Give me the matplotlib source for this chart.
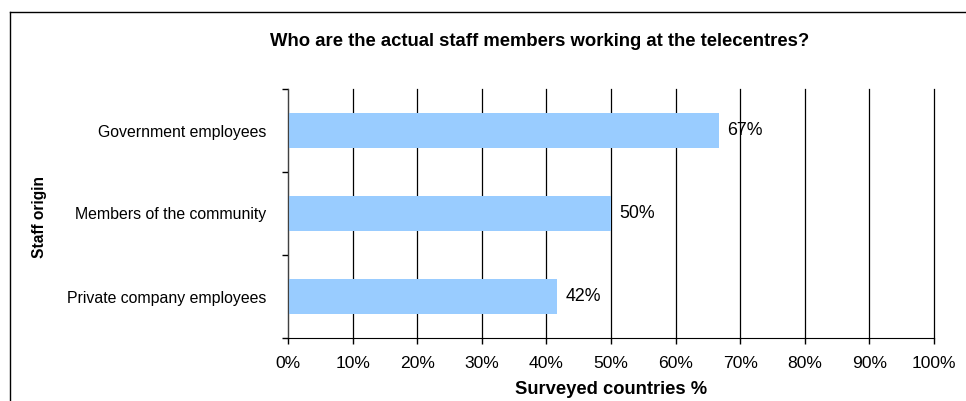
import matplotlib
matplotlib.use("Agg")
import matplotlib.pyplot as plt
from matplotlib.lines import Line2D
from matplotlib.ticker import FixedLocator

plt.rcParams['font.family'] = ['Liberation Sans', 'DejaVu Sans']

categories = ["Private company employees", "Members of the community", "Government employees"]
values = [41.67, 50.0, 66.67]
value_labels = ["42%", "50%", "67%"]
xticks = [0, 10, 20, 30, 40, 50, 60, 70, 80, 90, 100]
xtick_labels = [f"{t}%" for t in xticks]

W, H = 966, 401
fig = plt.figure(figsize=(W / 100, H / 100), dpi=100)
ax = fig.add_axes([288 / W, 1 - 338 / H, (934 - 288) / W, (338 - 89) / H])

ypos = list(range(len(categories)))
ax.barh(ypos, values, height=0.41, color="#99CCFF", zorder=2)
for y, v, lab in zip(ypos, values, value_labels):
    ax.text(v + 1.35, y, lab, va="center", ha="left", fontsize=12.8, zorder=4)

ax.set_xlim(0, 100)
ax.set_ylim(-0.5, len(categories) - 0.5)
ax.set_xticks(xticks)
ax.set_xticklabels(xtick_labels, fontsize=12.6)
ax.set_yticks(ypos)
ax.set_yticklabels(categories, fontsize=11.4)
ax.yaxis.set_minor_locator(FixedLocator([-0.5, 0.5, 1.5, 2.5]))
ax.tick_params(axis="y", which="major", length=0, pad=15.5)
ax.tick_params(axis="y", which="minor", length=4, width=1, color="black")
ax.tick_params(axis="x", length=4, width=1, pad=9)
ax.xaxis.grid(True, color="black", linewidth=0.9, zorder=0)
ax.set_axisbelow(True)
for gl in ax.get_xgridlines():
    gl.set_clip_on(False)
for s in ["top", "right"]:
    ax.spines[s].set_visible(False)
ax.spines["left"].set_color("#404040")
ax.spines["bottom"].set_color("black")

ax.set_xlabel("Surveyed countries %", fontsize=13.2, fontweight="bold", labelpad=7)
ax.set_ylabel("Staff origin", fontsize=11.2, fontweight="bold")
ax.yaxis.set_label_coords((47 - 288) / (934 - 288), (338 - 217) / (338 - 89))

fig.text(540 / W, 1 - 42 / H, "Who are the actual staff members working at the telecentres?",
         ha="center", va="center", fontsize=13.3, fontweight="bold")

# outer chart-area border (top and left visible)
bx, by = 9.5 / W, 1 - 12 / H
fig.add_artist(Line2D([bx, bx], [0, by], color="black", lw=1, transform=fig.transFigure))
fig.add_artist(Line2D([bx, 1], [by, by], color="black", lw=1, transform=fig.transFigure))

fig.savefig("out.png", dpi=100)
